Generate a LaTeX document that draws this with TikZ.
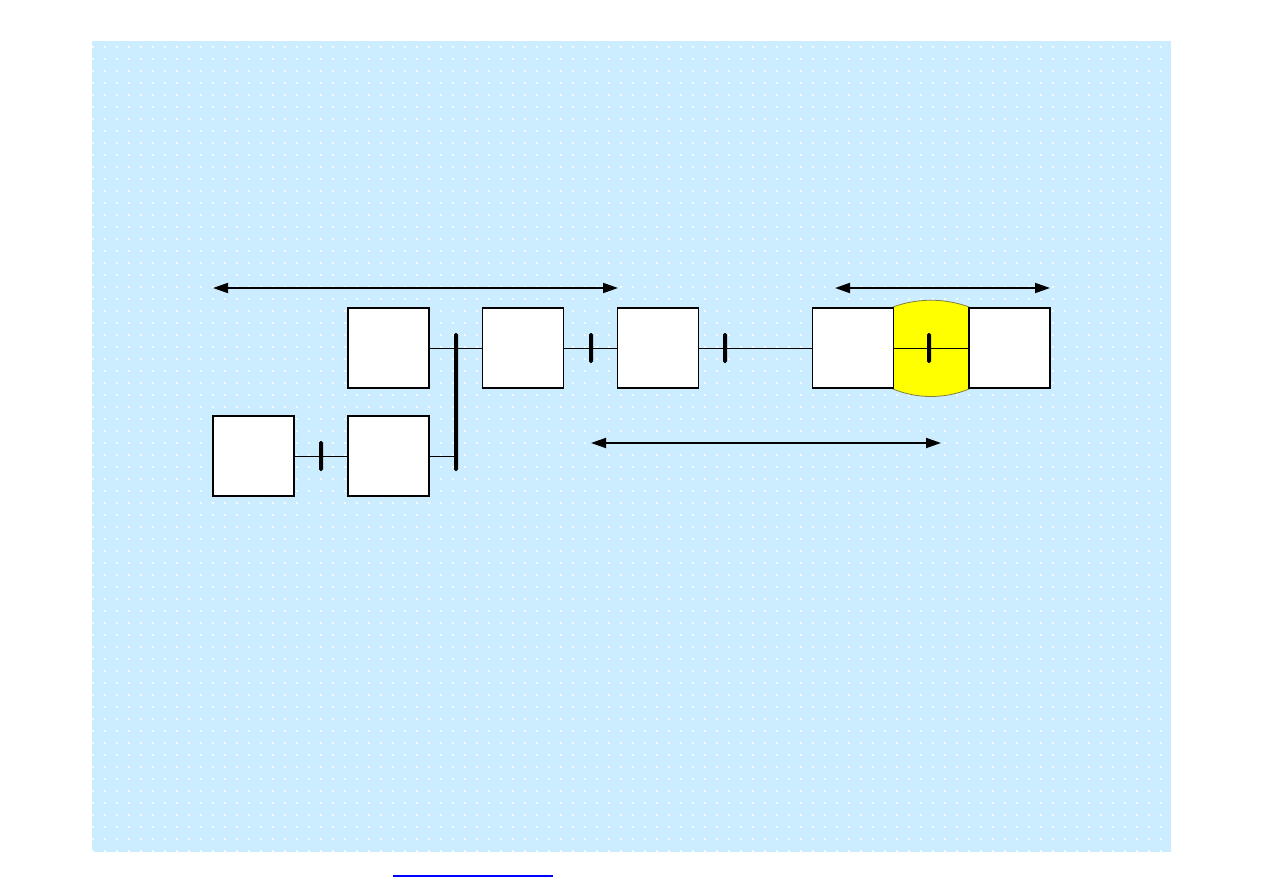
\documentclass[tikz,border=0pt]{standalone}
\usepackage{tikz}
\usetikzlibrary{arrows.meta}
\definecolor{SlideBlue}{HTML}{CCECFF}
\definecolor{GridDot}{HTML}{F4FBFF}
\definecolor{LinkBlue}{HTML}{0000FF}
\definecolor{LensYellow}{HTML}{FFFF00}
\definecolor{LensEdge}{HTML}{807F40}

\tikzset{
  unitbox/.style={draw=black,fill=white,line width=0.8pt,minimum width=40.5pt,minimum height=40pt,inner sep=0pt},
  breaker/.style={fill=black,rounded corners=0.8pt,minimum width=2pt,minimum height=15pt,inner sep=0pt},
  busbar/.style={fill=black,rounded corners=0.8pt,minimum width=2pt,minimum height=69pt,inner sep=0pt},
  wire/.style={line width=0.45pt},
  spanarrow/.style={line width=0.9pt,{Triangle[length=7.5pt,width=5pt]}-{Triangle[length=7.5pt,width=5pt]}}
}

\begin{document}
\begin{tikzpicture}[x=0.5pt,y=-0.5pt]
      \useasboundingbox (0,0) rectangle (1263,893);
      % slide background with dotted grid
      \fill[SlideBlue] (92,41) rectangle (1171,852);
      \foreach \gy in {47,59,...,851}
        \foreach \gx in {93,105,...,1162}
          \fill[GridDot] (\gx-0.8,\gy-0.8) rectangle +(1.6,1.6);
      % overlap zone between the two right units
      \filldraw[fill=LensYellow,draw=LensEdge,line width=0.4pt] (893,307) .. controls (917,298) and (945,298) .. (969,307)
        -- (969,389) .. controls (945,399) and (917,399) .. (893,389) -- cycle;
      % units
      \node[unitbox] (unitA) at (388.5,348) {};
      \node[unitbox] (unitB) at (523,348) {};
      \node[unitbox] (unitC) at (658,348) {};
      \node[unitbox] (unitD) at (853,348) {};
      \node[unitbox] (unitE) at (1009.5,348) {};
      \node[unitbox] (unitF) at (253.5,456) {};
      \node[unitbox] (unitG) at (388.5,456) {};
      \node[busbar] (bus) at (456,402) {};
      % links
      \draw[wire] (unitA) -- (unitB);
      \draw[wire] (unitB) -- (unitC);
      \draw[wire] (unitC) -- (unitD);
      \draw[wire] (unitD) -- (unitE);
      \draw[wire] (unitF) -- (unitG);
      \draw[wire] (unitG.east) -- (unitG.east -| bus.center);
      % breakers
      \node[breaker] (brkBC) at (591,348) {};
      \node[breaker] (brkCD) at (725,348) {};
      \node[breaker] (brkDE) at (929,348) {};
      \node[breaker] (brkFG) at (321,456) {};
      % spans
      \coordinate (spanL1) at (213,288);
      \coordinate (spanR1) at (618,288);
      \coordinate (spanL2) at (835,288);
      \coordinate (spanR2) at (1050,288);
      \coordinate (spanL3) at (591,443);
      \coordinate (spanR3) at (941,443);
      \draw[spanarrow] (spanL1) -- (spanR1);
      \draw[spanarrow] (spanL2) -- (spanR2);
      \draw[spanarrow] (spanL3) -- (spanR3);
      % link underline
      \draw[LinkBlue,line width=1pt] (393,876) -- (553,876);
    \end{tikzpicture}
\end{document}
